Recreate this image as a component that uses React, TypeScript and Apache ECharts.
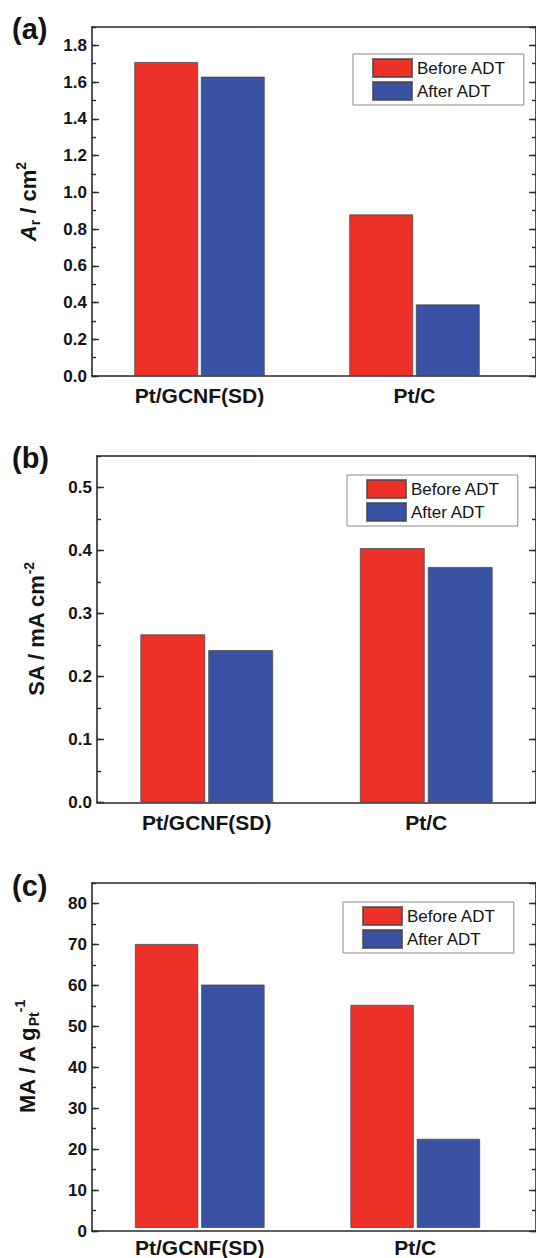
import React, { useEffect, useRef } from "react";
import * as echarts from "echarts";

// Categories and legend entries shared by the three panels
const categories = ["Pt/GCNF(SD)", "Pt/C"];
const seriesNames = ["Before ADT", "After ADT"];

// (a) electrochemically active area A_r (cm^2)
const areaBefore = [1.71, 0.88];
const areaAfter = [1.63, 0.39];
const areaTicks = ["0.0", "0.2", "0.4", "0.6", "0.8", "1.0", "1.2", "1.4", "1.6", "1.8"];

// (b) specific activity SA (mA cm^-2)
const saBefore = [0.267, 0.404];
const saAfter = [0.242, 0.374];
const saTicks = ["0.0", "0.1", "0.2", "0.3", "0.4", "0.5"];

// (c) mass activity MA (A g_Pt^-1)
const maBefore = [70, 55];
const maAfter = [60, 22];
const maTicks = ["0", "10", "20", "30", "40", "50", "60", "70", "80"];

const FONT = '"Liberation Sans", Arial, Helvetica, sans-serif';
const RED = "#EE3128";
const BLUE = "#3A52A3";
const AXIS = "#2a2a2a";
const TEXT = "#141414";

type Panel = {
  tag: string;
  tagTop: number;
  name: string;
  before: number[];
  after: number[];
  ticks: string[];
  max: number;
  minor: number;
  decimals: number;
  left: number;
  barRight: number;
  top: number;
  bottom: number;
  barWidth: number;
  barGap: string;
  nameGap: number;
  legend: [number, number];
};

const panels: Panel[] = [
  {
    tag: "(a)",
    tagTop: 14,
    name: "{i|A}{sub|r}{n| / cm}{sup|2}",
    before: areaBefore,
    after: areaAfter,
    ticks: areaTicks,
    max: 1.9,
    minor: 0.1,
    decimals: 1,
    left: 92,
    barRight: 14,
    top: 27,
    bottom: 882,
    barWidth: 64,
    barGap: "4%",
    nameGap: 50,
    legend: [353, 54],
  },
  {
    tag: "(b)",
    tagTop: 443,
    name: "{n|SA / mA cm}{sup|-2}",
    before: saBefore,
    after: saAfter,
    ticks: saTicks,
    max: 0.55,
    minor: 0.05,
    decimals: 1,
    left: 97,
    barRight: 0,
    top: 456,
    bottom: 455.5,
    barWidth: 65,
    barGap: "4.5%",
    nameGap: 47,
    legend: [347, 475],
  },
  {
    tag: "(c)",
    tagTop: 871,
    name: "{n|MA / A g}{sub|Pt}{sup|-1}",
    before: maBefore,
    after: maAfter,
    ticks: maTicks,
    max: 85,
    minor: 5,
    decimals: 0,
    left: 92,
    barRight: 13,
    top: 883,
    bottom: 27,
    barWidth: 63.5,
    barGap: "4.5%",
    nameGap: 51,
    legend: [343, 902],
  },
];

const nameRich = {
  n: { fontFamily: FONT, fontSize: 22, fontWeight: "bold", color: TEXT, lineHeight: 28 },
  i: { fontFamily: FONT, fontSize: 22, fontWeight: "bold", fontStyle: "italic", color: TEXT, lineHeight: 28 },
  sub: { fontFamily: FONT, fontSize: 14, fontWeight: "bold", color: TEXT, verticalAlign: "bottom", lineHeight: 14 },
  sup: { fontFamily: FONT, fontSize: 14, fontWeight: "bold", color: TEXT, verticalAlign: "top", lineHeight: 14 },
};

function buildOption() {
  const grid: any[] = [];
  const xAxis: any[] = [];
  const yAxis: any[] = [];
  const series: any[] = [];
  const legend: any[] = [];
  const title: any[] = [];

  const lineStyle = { color: AXIS, width: 1.6 };

  panels.forEach((p, k) => {
    const major = parseFloat(p.ticks[1]) - parseFloat(p.ticks[0]);
    // frame grid: spans the full box, carries the value axes
    grid.push({ left: p.left, right: -1, top: p.top, bottom: p.bottom, containLabel: false });
    // bar grid: narrower band that positions the two category groups
    grid.push({ left: p.left, right: p.barRight, top: p.top, bottom: p.bottom, containLabel: false });
    const gf = 2 * k;
    const gb = 2 * k + 1;

    const frameX = (position: string) => ({
      gridIndex: gf,
      type: "value",
      min: 0,
      max: 1,
      position,
      axisLine: { show: true, onZero: false, lineStyle },
      axisTick: { show: false },
      axisLabel: { show: false },
      splitLine: { show: false },
    });
    xAxis.push(frameX("bottom"));
    xAxis.push(frameX("top"));
    xAxis.push({
      gridIndex: gb,
      type: "category",
      data: categories,
      axisLine: { show: false },
      axisTick: { show: false },
      splitLine: { show: false },
      axisLabel: {
        fontFamily: FONT,
        fontSize: 21,
        fontWeight: "bold",
        color: TEXT,
        margin: 9,
      },
    });

    const valueAxis = (position: string, interval: number, tickLen: number, withLine: boolean, withLabels: boolean) => ({
      gridIndex: gf,
      type: "value",
      position,
      min: 0,
      max: p.max,
      interval,
      axisLine: { show: withLine, onZero: false, lineStyle },
      axisTick: { show: true, inside: true, length: tickLen, lineStyle: { color: AXIS, width: 1.4 } },
      splitLine: { show: false },
      axisLabel: withLabels
        ? {
            show: true,
            showMaxLabel: false,
            fontFamily: FONT,
            fontSize: 17,
            fontWeight: "bold",
            color: TEXT,
            margin: 5,
            formatter: (v: number) => {
              const s = v.toFixed(p.decimals);
              return p.ticks.includes(s) ? s : "";
            },
          }
        : { show: false },
    });

    const leftMajor: any = valueAxis("left", major, 7, true, true);
    leftMajor.name = p.name;
    leftMajor.nameLocation = "middle";
    leftMajor.nameRotate = 90;
    leftMajor.nameGap = p.nameGap;
    leftMajor.nameTextStyle = { rich: nameRich };
    yAxis.push(leftMajor);
    yAxis.push(valueAxis("left", p.minor, 4, false, false));
    yAxis.push(valueAxis("right", major, 7, true, false));
    yAxis.push(valueAxis("right", p.minor, 4, false, false));
    yAxis.push({ gridIndex: gb, type: "value", min: 0, max: p.max, show: false });

    const xi = 3 * k + 2;
    const yi = 5 * k + 4;
    [p.before, p.after].forEach((vals, s) => {
      series.push({
        type: "bar",
        name: seriesNames[s],
        xAxisIndex: xi,
        yAxisIndex: yi,
        data: vals,
        barWidth: p.barWidth,
        barGap: p.barGap,
        itemStyle: {
          color: s === 0 ? RED : BLUE,
          borderColor: "rgba(70,70,70,0.75)",
          borderWidth: 1,
        },
      });
    });

    legend.push({
      data: seriesNames,
      orient: "vertical",
      left: p.legend[0],
      top: p.legend[1],
      itemWidth: 39,
      itemHeight: 18,
      itemGap: 3,
      padding: [4, 18, 4, 19],
      borderColor: "#8a8a8a",
      borderWidth: 1,
      backgroundColor: "#fff",
      selectedMode: false,
      icon: "rect",
      textStyle: { fontFamily: FONT, fontSize: 17, color: TEXT, lineHeight: 18 },
    });

    title.push({
      text: p.tag,
      left: 12,
      top: p.tagTop,
      padding: 0,
      textStyle: { fontFamily: FONT, fontSize: 29, fontWeight: "bold", color: TEXT },
    });
  });

  return {
    animation: false,
    backgroundColor: "#fff",
    title,
    legend,
    grid,
    xAxis,
    yAxis,
    series,
  };
}

export default function App() {
  const ref = useRef<HTMLDivElement>(null);

  useEffect(() => {
    if (!ref.current) return;
    const chart = echarts.init(ref.current, undefined, { renderer: "svg" });
    chart.setOption(buildOption() as any);
    return () => chart.dispose();
  }, []);

  return (
    <div
      ref={ref}
      style={{ position: "fixed", left: 0, top: 0, width: 536, height: 1258, background: "#fff" }}
    />
  );
}
